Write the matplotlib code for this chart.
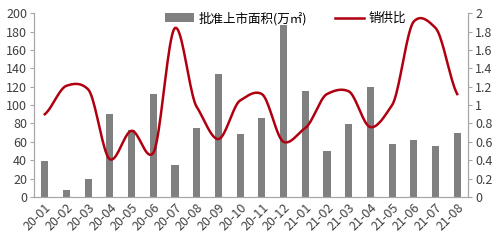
import matplotlib
matplotlib.use("Agg")
import matplotlib.pyplot as plt
import numpy as np

plt.rcParams['font.family'] = ['Noto Sans CJK SC', 'DejaVu Sans']

months = ['20-01', '20-02', '20-03', '20-04', '20-05', '20-06', '20-07', '20-08', '20-09', '20-10',
          '20-11', '20-12', '21-01', '21-02', '21-03', '21-04', '21-05', '21-06', '21-07', '21-08']
area = [39, 8, 19, 90, 73, 112, 35, 75, 134, 68, 86, 187, 115, 50, 79, 120, 58, 62, 55, 70]
ratio = [0.9, 1.21, 1.17, 0.41, 0.72, 0.48, 1.84, 0.98, 0.63, 1.05,
         1.12, 0.6, 0.75, 1.12, 1.15, 0.76, 1.0, 1.91, 1.84, 1.12]


def smooth(y, s=0.3, n=20):
    # hermite spline, tangents like a smoothed excel line
    y = np.asarray(y, float)
    p = np.concatenate([[2 * y[0] - y[1]], y, [2 * y[-1] - y[-2]]])
    m = s * (p[2:] - p[:-2])
    xs, ys = [], []
    t = np.linspace(0, 1, n, endpoint=False)
    h00 = 2 * t ** 3 - 3 * t ** 2 + 1
    h10 = t ** 3 - 2 * t ** 2 + t
    h01 = -2 * t ** 3 + 3 * t ** 2
    h11 = t ** 3 - t ** 2
    for i in range(len(y) - 1):
        xs.append(i + t)
        ys.append(h00 * y[i] + h10 * m[i] + h01 * y[i + 1] + h11 * m[i + 1])
    xs.append([len(y) - 1])
    ys.append([y[-1]])
    return np.concatenate(xs), np.concatenate(ys)


fig = plt.figure(figsize=(4.99, 2.41), dpi=100)
ax = fig.add_axes([0.068, 0.183, 0.87, 0.762])
x = np.arange(len(months))
ax.bar(x, area, width=0.33, color='#808080', label='批准上市面积(万㎡)')
ax.set_ylim(0, 200)
ax.set_yticks(range(0, 201, 20))
ax.set_xlim(-0.5, len(months) - 0.5)
ax.set_xticks(x)
ax.set_xticklabels(months, rotation=45, ha='right', rotation_mode='anchor')

ax2 = ax.twinx()
sx, sy = smooth(ratio)
ax2.plot(sx, sy, color='#b00010', lw=1.8, label='销供比')
ax2.set_ylim(0, 2)
ax2.set_yticks(np.arange(0, 2.01, 0.2))
ax2.set_yticklabels(['0', '0.2', '0.4', '0.6', '0.8', '1', '1.2', '1.4', '1.6', '1.8', '2'])

for a in (ax, ax2):
    a.spines['top'].set_visible(False)
    for s in ('left', 'right', 'bottom'):
        a.spines[s].set_color('#a6a6a6')
        a.spines[s].set_linewidth(0.8)
    a.tick_params(labelsize=9, colors='#404040', length=3, width=0.8, pad=2)
    a.tick_params(axis='y', color='#a6a6a6')
ax.tick_params(axis='x', length=0, pad=3)

h1, l1 = ax.get_legend_handles_labels()
h2, l2 = ax2.get_legend_handles_labels()
ax.legend(h1 + h2, l1 + l2, loc='upper center', bbox_to_anchor=(0.58, 1.07), ncol=2,
          frameon=False, fontsize=9, handlelength=2.3, columnspacing=2.2, handletextpad=0.4)

fig.savefig('out.png', dpi=100)
